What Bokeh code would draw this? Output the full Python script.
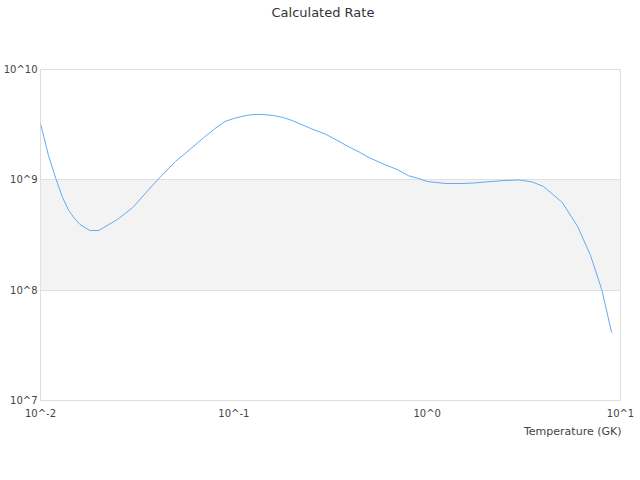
from bokeh.plotting import figure
from bokeh.models import FixedTicker, Title
from bokeh.embed import file_html
from bokeh.resources import INLINE

# Data
temperature = [0.01, 0.011, 0.012, 0.013, 0.014, 0.015, 0.016, 0.018, 0.02, 0.025,
               0.03, 0.04, 0.05, 0.06, 0.07, 0.08, 0.09, 0.1, 0.11, 0.12,
               0.13, 0.14, 0.15, 0.16, 0.18, 0.2, 0.25, 0.3, 0.35, 0.4,
               0.45, 0.5, 0.6, 0.7, 0.8, 0.9, 1.0, 1.25, 1.5, 1.75,
               2.0, 2.5, 3.0, 3.5, 4.0, 5.0, 6.0, 7.0, 8.0, 9.0]
rate = [3.24e9, 1.66e9, 1.03e9, 6.92e8, 5.27e8, 4.47e8, 3.94e8, 3.47e8, 3.47e8, 4.37e8,
        5.61e8, 9.86e8, 1.47e9, 1.92e9, 2.42e9, 2.92e9, 3.38e9, 3.60e9, 3.75e9, 3.87e9,
        3.91e9, 3.91e9, 3.87e9, 3.83e9, 3.67e9, 3.45e9, 2.92e9, 2.58e9, 2.23e9, 1.96e9,
        1.77e9, 1.59e9, 1.38e9, 1.24e9, 1.09e9, 1.03e9, 9.66e8, 9.26e8, 9.26e8, 9.36e8,
        9.56e8, 9.86e8, 9.97e8, 9.56e8, 8.70e8, 6.23e8, 3.78e8, 2.06e8, 1.01e8, 4.13e7]

x_ticks = [0.01, 0.1, 1, 10]
x_tick_labels = ["10^-2", "10^-1", "10^0", "10^1"]
y_ticks = [1e7, 1e8, 1e9, 1e10]
y_tick_labels = ["10^7", "10^8", "10^9", "10^10"]

title_text = "Calculated Rate"
x_title = "Temperature (GK)"

FONT = "DejaVu Sans"
TEXT_COLOR = "#444444"

p = figure(width=640, height=480, output_backend="svg", toolbar_location=None,
           x_axis_type="log", y_axis_type="log",
           x_range=(x_ticks[0], x_ticks[-1]), y_range=(y_ticks[0], y_ticks[-1]),
           min_border_left=40, min_border_right=20, min_border_top=69, min_border_bottom=80)
p.background_fill_color = "white"
p.border_fill_color = "white"
p.outline_line_color = "#dddddd"
p.outline_line_width = 1

p.line(temperature, rate, line_color="#64aaf0", line_width=1)

def style_axis(ax, ticks, labels, standoff):
    ax.ticker = FixedTicker(ticks=ticks)
    ax.major_label_overrides = {t: l for t, l in zip(ticks, labels)}
    ax.axis_line_color = None
    ax.major_tick_line_color = None
    ax.minor_tick_line_color = None
    ax.major_tick_out = 0
    ax.major_tick_in = 0
    ax.major_label_standoff = standoff
    ax.major_label_text_font = FONT
    ax.major_label_text_font_size = "10px"
    ax.major_label_text_color = TEXT_COLOR

style_axis(p.xaxis[0], x_ticks, x_tick_labels, 7)
style_axis(p.yaxis[0], y_ticks, y_tick_labels, 3)

p.xgrid.grid_line_color = None
p.ygrid.ticker = FixedTicker(ticks=y_ticks)
p.ygrid.grid_line_color = "#e0e0e0"
p.ygrid.band_fill_color = "#f3f3f3"
p.ygrid.band_fill_alpha = 1.0

# spacer between the frame and the main title (stacked next to the frame)
p.add_layout(Title(text=" ", text_font=FONT, text_font_size="13px", standoff=33), "above")

p.title.text = title_text
p.title.align = "left"
p.title.text_font = FONT
p.title.text_font_size = "13px"
p.title.text_font_style = "normal"
p.title.text_color = "#333333"
p.title.offset = 231
p.title.standoff = 0

p.add_layout(Title(text=x_title, align="right", text_font=FONT, text_font_size="11px",
                   text_font_style="normal", text_color=TEXT_COLOR, offset=-1, standoff=2),
             "below")

open("out.html", "w").write(file_html(p, INLINE))
